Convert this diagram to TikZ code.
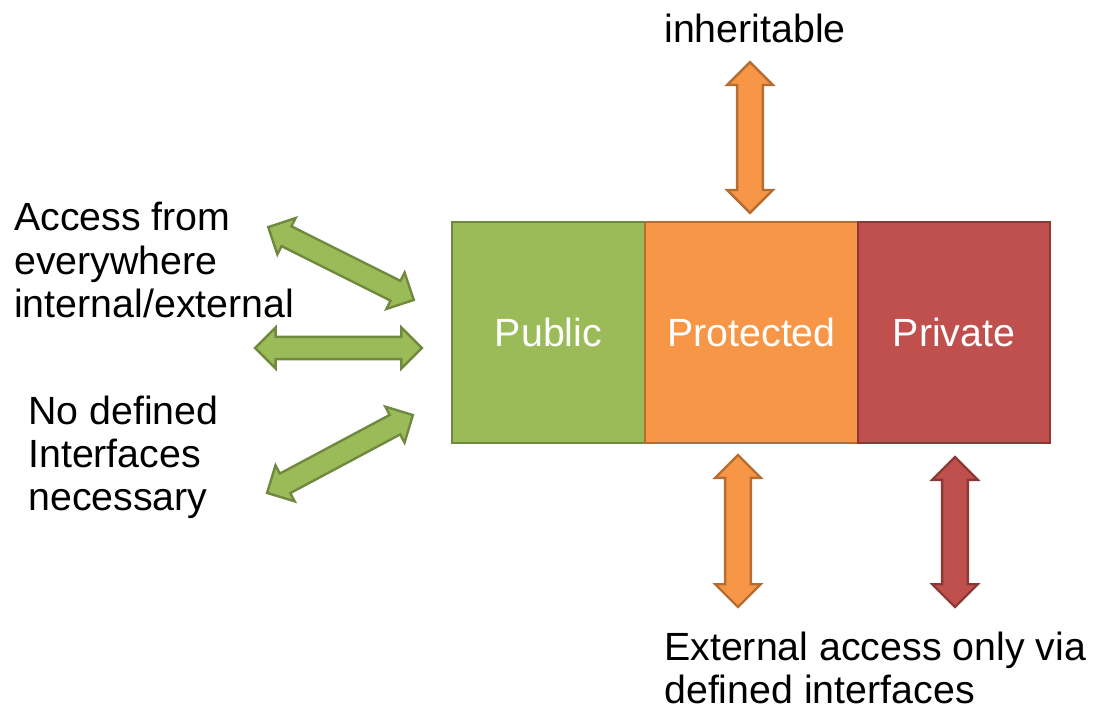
\documentclass[tikz,border=0pt]{standalone}
\usepackage{fontspec}
\setmainfont{Liberation Sans}
\usepackage{xcolor}
\usetikzlibrary{positioning,shapes.arrows}

\definecolor{pubfill}{HTML}{9BBB59}
\definecolor{publine}{HTML}{71893F}
\definecolor{protfill}{HTML}{F79646}
\definecolor{protline}{HTML}{B66D31}
\definecolor{privfill}{HTML}{C0504D}
\definecolor{privline}{HTML}{8C3836}

\begin{document}
\begin{tikzpicture}[x = 0.75pt, y = -0.75pt,
    every node/.style = {font = \fontsize{29.5}{32.3}\selectfont},
    label/.style = {inner sep = 0pt, align = left, anchor = west},
    block/.style = {rectangle, draw, line width = 1.5pt, outer sep = 0pt,
      minimum height = 165.75pt, text = white},
    access/.style = {double arrow, draw, line width = 1.8pt, inner xsep = 0pt,
      inner ysep = 8.8pt, double arrow head extend = 7.4pt,
      minimum width = 32.4pt},
    open/.style = {access, inner ysep = 7.4pt,
      double arrow head extend = 7pt, minimum width = 28.8pt}]
  \useasboundingbox (0,0) rectangle (1095,709);

  % the three blocks
  \node[block, fill = pubfill, draw = publine, minimum width = 144.75pt]
    (public) at (548.5,332.5) {Public};
  \node[block, fill = protfill, draw = protline, minimum width = 159.75pt,
    right = 0pt of public] (protected) {Protected};
  \node[block, fill = privfill, draw = privline, minimum width = 144pt,
    right = 0pt of protected] (private) {Private};

  % texts
  \node[label] (everywhere) at (14,260)
    {Access from\\everywhere\\internal/external};
  \node[label] (nointerface) at (28,457)
    {No defined\\Interfaces\\necessary};
  \node[label] (inherit) at (664,28) {inheritable};
  \node[label] (external) at (664,668)
    {External access only via\\defined interfaces};

  % arrows
  \node[open, fill = pubfill, draw = publine, minimum height = 122pt,
    rotate = -26.6] (pubup) at (341,263.5) {};
  \node[open, fill = pubfill, draw = publine, minimum height = 125pt]
    (pubmid) at (338.5,348) {};
  \node[open, fill = pubfill, draw = publine, minimum height = 124pt,
    rotate = 28.1] (pubdown) at (340,454) {};
  \node[access, fill = protfill, draw = protline, minimum height = 113pt,
    rotate = 90] (inherarrow) at (750,137.5) {};
  \node[access, fill = protfill, draw = protline, minimum height = 114pt,
    rotate = 90] (protarrow) at (738,531) {};
  \node[access, fill = privfill, draw = privline, minimum height = 112.5pt,
    rotate = 90] (privarrow) at (955,532) {};
\end{tikzpicture}
\end{document}
